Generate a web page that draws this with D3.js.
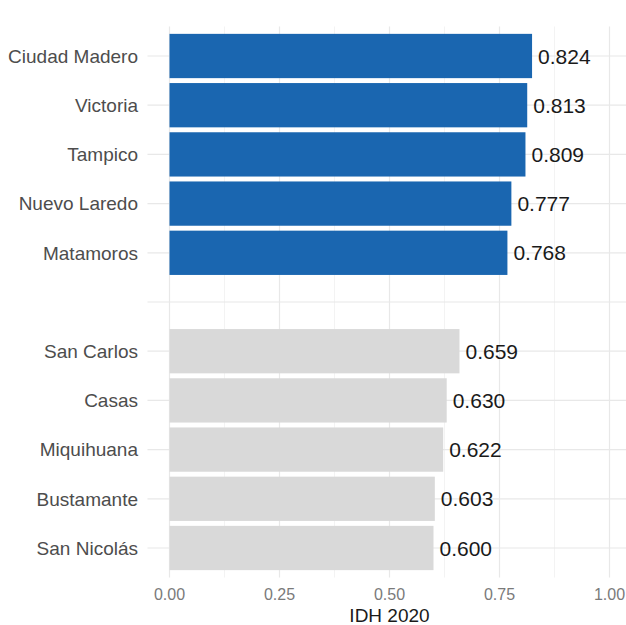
<!DOCTYPE html>
<html><head><meta charset="utf-8">
<script src="https://cdn.jsdelivr.net/npm/d3@7"></script>
<style>body{margin:0;background:#fff;} text{font-family:"Liberation Sans",Arial,sans-serif;}</style>
</head><body>
<svg id="c" width="626" height="625"></svg>
<script>
const categories = ["Ciudad Madero","Victoria","Tampico","Nuevo Laredo","Matamoros","","San Carlos","Casas","Miquihuana","Bustamante","San Nicolás"];
const values = [0.824,0.813,0.809,0.777,0.768,null,0.659,0.630,0.622,0.603,0.600];
const groups = ["top","top","top","top","top",null,"bottom","bottom","bottom","bottom","bottom"];
const xTicks = [0,0.25,0.5,0.75,1];
const xMinor = [0.125,0.375,0.625,0.875];
const colors = {top:"#1a66b0", bottom:"#d9d9d9"};

const svg = d3.select("#c");
const top0 = 26.5, bot0 = 577.5;
const x = d3.scaleLinear().domain([-0.05,1.05]).range([147.5,631.5]);
const y = d3.scaleBand().domain(categories.map((c,i)=>i)).range([31.4,572.6]).paddingInner(0.1).paddingOuter(0.05);
const cy = i => y(i)+y.bandwidth()/2;

const g = svg.append("g");
g.selectAll(".mi").data(xMinor).join("line")
  .attr("x1",d=>x(d)).attr("x2",d=>x(d)).attr("y1",top0).attr("y2",bot0)
  .attr("stroke","#f3f3f3").attr("stroke-width",1);
g.selectAll(".ma").data(xTicks).join("line")
  .attr("x1",d=>x(d)).attr("x2",d=>x(d)).attr("y1",top0).attr("y2",bot0)
  .attr("stroke","#e8e8e8").attr("stroke-width",1.2);
g.selectAll(".hy").data(categories.map((c,i)=>i)).join("line")
  .attr("x1",147.5).attr("x2",626).attr("y1",d=>cy(d)).attr("y2",d=>cy(d))
  .attr("stroke","#e8e8e8").attr("stroke-width",1.2);

const rows = categories.map((c,i)=>({c,i,v:values[i],g:groups[i]})).filter(d=>d.v!=null);
g.selectAll("rect").data(rows).join("rect")
  .attr("x",x(0)).attr("y",d=>y(d.i)).attr("width",d=>x(d.v)-x(0)).attr("height",y.bandwidth())
  .attr("fill",d=>colors[d.g]);
g.selectAll(".vl").data(rows).join("text")
  .attr("x",d=>x(d.v)+6).attr("y",d=>cy(d.i)).attr("dy","0.36em")
  .attr("font-size",21).attr("fill","#1a1a1a").text(d=>d.v.toFixed(3));
g.selectAll(".cl").data(rows).join("text")
  .attr("x",138).attr("y",d=>cy(d.i)).attr("dy","0.36em").attr("text-anchor","end")
  .attr("font-size",19).attr("fill","#4d4d4d").text(d=>d.c);
g.selectAll(".xt").data(xTicks).join("text")
  .attr("x",d=>x(d)).attr("y",600).attr("text-anchor","middle")
  .attr("font-size",16).attr("fill","#7a7a7a").text(d=>d3.format(".2f")(d));
svg.append("text").attr("x",x(0.5)).attr("y",622).attr("text-anchor","middle")
  .attr("font-size",19).attr("fill","#1a1a1a").text("IDH 2020");
</script>
</body></html>
